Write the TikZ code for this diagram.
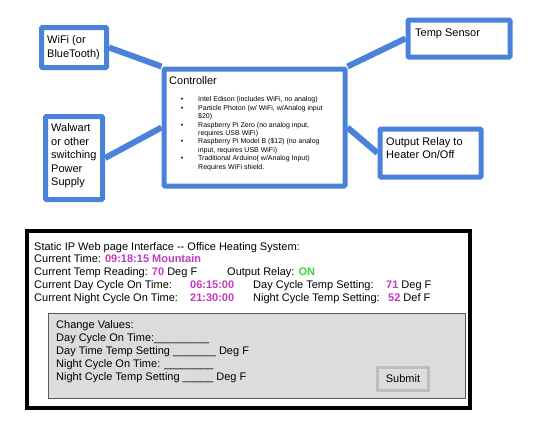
\documentclass[tikz,border=0pt]{standalone}
\usepackage{fontspec}
\setmainfont{Liberation Sans}
\usetikzlibrary{backgrounds}
\definecolor{dblue}{HTML}{4A82DA}
\definecolor{mag}{HTML}{C23AC2}
\definecolor{grn}{HTML}{3AD63A}
\definecolor{pgray}{HTML}{DCDCDC}
\definecolor{bgray}{HTML}{BDBDBD}
\begin{document}
\begin{tikzpicture}[x=1pt,y=-1pt,
  bluebox/.style={draw=dblue,line width=5pt,fill=white,rounded corners=1pt,inner sep=0pt,minimum width=#1},
  conn/.style={draw=dblue,line width=6pt},
  txt/.style={anchor=base west,inner sep=0pt,font=\fontsize{11}{13}\selectfont},
  small/.style={anchor=base west,inner sep=0pt,font=\fontsize{7}{8}\selectfont},
  val/.style={text=mag,font=\fontsize{11}{13}\selectfont\bfseries}]
\useasboundingbox (0,0) rectangle (540,426);
% blue boxes
\node[bluebox=65pt,minimum height=40pt] (wifi) at (74,47.5) {};
\node[bluebox=57pt,minimum height=83pt] (wal) at (74,158) {};
\node[bluebox=181pt,minimum height=117pt] (ctrl) at (254.5,127.5) {};
\node[bluebox=102pt,minimum height=37pt] (temp) at (459,38.5) {};
\node[bluebox=101pt,minimum height=48pt] (relay) at (430.5,153) {};
% connectors
\begin{scope}[on background layer]
\draw[conn] (wifi.east) -- (ctrl.north west);
\draw[conn] (wal.east) -- (ctrl.west);
\draw[conn] (temp.west) -- (ctrl.north east);
\draw[conn] (relay.west) -- (ctrl.east);
\end{scope}
% box texts
\node[txt] (w1) at (47,43) {WiFi (or};
\node[txt] (w2) at (47,57) {BlueTooth)};
\node[txt] (p1) at (51,131.5) {Walwart};
\node[txt] (p2) at (51,145) {or other};
\node[txt] (p3) at (51,158.5) {switching};
\node[txt] (p4) at (51,172) {Power};
\node[txt] (p5) at (51,185.5) {Supply};
\node[txt] (t1) at (415,36) {Temp Sensor};
\node[txt] (r1) at (386,145) {Output Relay to};
\node[txt] (r2) at (386,158.5) {Heater On/Off};
\node[txt] (c0) at (169,84) {Controller};
% bullets
\foreach \yy/\b/\t [count=\i] in {
  101.8/1/{Intel Edison (includes WiFi, no analog)},
  110.2/1/{Particle Photon (w/ WiFi, w/Analog input},
  118.6/0/{\$20)},
  127.1/1/{Raspberry Pi Zero (no analog input,},
  135.5/0/{requires USB WiFi)},
  143.9/1/{Raspberry Pi Model B (\$12) (no analog},
  152.3/0/{input, requires USB WiFi)},
  160.7/1/{Traditional Arduino( w/Analog Input)},
  169.2/0/{Requires WiFi shield.}}{
  \node[small] (b\i) at (198,\yy) {\t};
  \ifnum\b=1 \node[small,anchor=base] (d\i) at (182,\yy) {\textbullet}; \fi
}
% panel
\node[draw=black,line width=4pt,fill=white,minimum width=443pt,minimum height=177pt,inner sep=0pt] (panel) at (248.5,319.5) {};
\node[txt] (l1) at (34,250) {Static IP Web page Interface -{}- Office Heating System:};
\node[txt] (l2) at (34,262.7) {Current Time: \textcolor{mag}{\bfseries 09:18:15 Mountain}};
\node[txt] (l3) at (34,275.5) {Current Temp Reading: \textcolor{mag}{\bfseries 70} Deg F};
\node[txt] (l3b) at (227,275.5) {Output Relay: \textcolor{grn}{\bfseries ON}};
\node[txt] (l4) at (34,288.2) {Current Day Cycle On Time:};
\node[txt,val] (l4v) at (190,288.2) {06:15:00};
\node[txt] (l4b) at (253,288.2) {Day Cycle Temp Setting:};
\node[txt] (l4c) at (386,288.2) {\textcolor{mag}{\bfseries 71} Deg F};
\node[txt] (l5) at (34,301) {Current Night Cycle On Time:};
\node[txt,val] (l5v) at (190,301) {21:30:00};
\node[txt] (l5b) at (253,301) {Night Cycle Temp Setting:};
\node[txt] (l5c) at (388,301) {\textcolor{mag}{\bfseries 52} Def F};
% gray form
\node[draw=black!65,line width=0.8pt,fill=pgray,minimum width=417pt,minimum height=85pt,inner sep=0pt] (form) at (256.5,355.5) {};
\node[txt] (f1) at (56,328) {Change Values:};
\node[txt] (f2) at (56,341) {Day Cycle On Time:\_\_\_\_\_\_\_\_\_};
\node[txt] (f3) at (56,354) {Day Time Temp Setting \_\_\_\_\_\_\_ Deg F};
\node[txt] (f4) at (56,367) {Night Cycle On Time: \_\_\_\_\_\_\_\_};
\node[txt] (f5) at (56,380) {Night Cycle Temp Setting \_\_\_\_\_ Deg F};
\node[draw=bgray,line width=3pt,fill=pgray,minimum width=51pt,minimum height=23pt,inner sep=0pt,font=\fontsize{11}{13}\selectfont] (submit) at (403,379) {Submit};
\end{tikzpicture}
\end{document}
